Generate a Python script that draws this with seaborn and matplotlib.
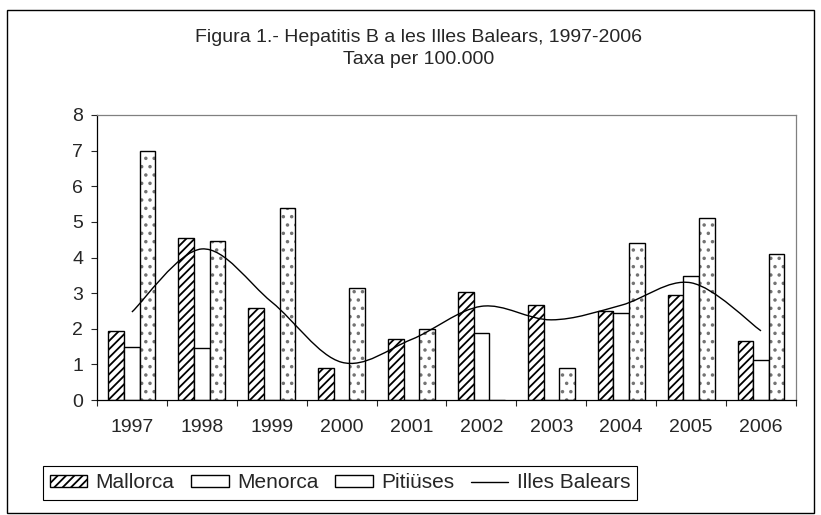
import numpy as np
import pandas as pd
import matplotlib
matplotlib.use("Agg")
import matplotlib.pyplot as plt
from matplotlib.patches import Patch, PathPatch, Rectangle
from matplotlib.lines import Line2D
from matplotlib.path import Path
import seaborn as sns

# Dades (taxa per 100.000)
anys = ["1997", "1998", "1999", "2000", "2001", "2002", "2003", "2004", "2005", "2006"]
mallorca = [1.95, 4.54, 2.59, 0.89, 1.72, 3.02, 2.68, 2.51, 2.96, 1.65]
menorca = [1.48, 1.45, 0.0, 0.0, 0.0, 1.87, 0.0, 2.43, 3.47, 1.12]
pitiuses = [7.0, 4.47, 5.38, 3.15, 1.99, 0.0, 0.89, 4.42, 5.10, 4.10]
illes_balears = [2.47, 4.24, 2.75, 1.06, 1.70, 2.63, 2.25, 2.66, 3.29, 1.94]
illes = ["Mallorca", "Menorca", "Pitiüses"]

df = pd.DataFrame({
    "any": anys * 3,
    "illa": [i for i in illes for _ in anys],
    "taxa": mallorca + menorca + pitiuses,
})

sns.set_style("white")
plt.rcParams["font.family"] = ["Liberation Sans", "DejaVu Sans"]
plt.rcParams["hatch.linewidth"] = 1.3

fig = plt.figure(figsize=(8.21, 5.15), dpi=100)
ax = fig.add_axes([0.1181, 0.2233, 0.8514, 0.5534])

sns.barplot(
    data=df, x="any", y="taxa", hue="illa", hue_order=illes,
    palette=["white", "white", "white"], edgecolor="black", linewidth=1.0,
    width=0.67, gap=0, legend=False, ax=ax, saturation=1,
)

# Tramats de les barres
tramats = ["////", None, ".."]
for cont, tr in zip(ax.containers, tramats):
    for barra in cont:
        barra.set_edgecolor("black")
        if tr:
            barra.set_hatch(tr)
        if tr == "..":
            barra._hatch_color = (0.45, 0.45, 0.45, 1.0)  # punts més fins

# Línia suavitzada (Bezier a partir dels punts)
xs = np.arange(len(anys))
ys = np.array(illes_balears)
verts = [(xs[0], ys[0])]
codes = [Path.MOVETO]
n = len(xs)
for i in range(n - 1):
    p0 = np.array([xs[max(i - 1, 0)], ys[max(i - 1, 0)]])
    p1 = np.array([xs[i], ys[i]])
    p2 = np.array([xs[i + 1], ys[i + 1]])
    p3 = np.array([xs[min(i + 2, n - 1)], ys[min(i + 2, n - 1)]])
    c1 = p1 + (p2 - p0) / 6
    c2 = p2 - (p3 - p1) / 6
    verts += [tuple(c1), tuple(c2), tuple(p2)]
    codes += [Path.CURVE4] * 3
ax.add_patch(PathPatch(Path(verts, codes), fill=False, edgecolor="black", lw=1.0, zorder=5))

# Eixos
ax.set_xlim(-0.5, len(anys) - 0.5)
ax.set_ylim(0, 8)
ax.set_yticks(range(0, 9))
ax.set_xlabel("")
ax.set_ylabel("")
ax.set_xticks(np.arange(-0.5, len(anys)), minor=True)
ax.tick_params(axis="x", which="major", length=0, pad=14, labelsize=14)
ax.tick_params(axis="x", which="minor", direction="out", length=4, width=0.8, bottom=True)
ax.tick_params(axis="y", direction="out", length=4, width=0.8, left=True, pad=6, labelsize=14)
for lado in ["left", "bottom"]:
    ax.spines[lado].set_color("black")
    ax.spines[lado].set_linewidth(0.9)
for lado in ["top", "right"]:
    ax.spines[lado].set_color("#808080")
    ax.spines[lado].set_linewidth(0.9)

# Títol
fig.text(0.510, 1 - 37 / 515, "Figura 1.- Hepatitis B a les Illes Balears, 1997-2006",
         ha="center", va="center", fontsize=14)
fig.text(0.510, 1 - 60 / 515, "Taxa per 100.000", ha="center", va="center", fontsize=14)

# Llegenda
handles = [
    Patch(facecolor="white", edgecolor="black", hatch="////", label="Mallorca"),
    Patch(facecolor="white", edgecolor="black", label="Menorca"),
    Patch(facecolor="white", edgecolor="black", label="Pitiüses"),
    Line2D([0], [0], color="black", lw=1.0, label="Illes Balears"),
]
leg = fig.legend(handles=handles, loc="center", bbox_to_anchor=(340 / 821, 1 - 483 / 515),
                 ncol=4, fontsize=15, frameon=True, fancybox=False, framealpha=1,
                 edgecolor="black", handlelength=1.8, handleheight=0.5,
                 handletextpad=0.4, columnspacing=0.8, borderpad=0.35)
leg.get_frame().set_linewidth(0.8)

# Vora de l'àrea del gràfic
fig.patches.append(Rectangle((7 / 821, 1 - 513 / 515), 807 / 821, 503 / 515,
                             transform=fig.transFigure, fill=False,
                             edgecolor="black", lw=1.0))

fig.savefig("out.png", dpi=100)
